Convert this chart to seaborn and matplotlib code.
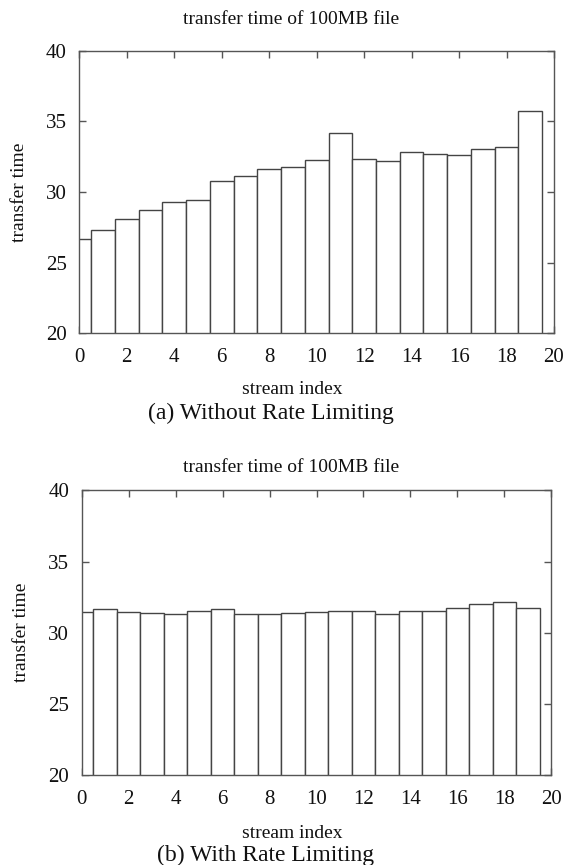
import matplotlib
matplotlib.use("Agg")
import matplotlib.pyplot as plt
import seaborn as sns
import pandas as pd

stream_index = list(range(20))
without_limit = [26.65, 27.3, 28.1, 28.7, 29.3, 29.45, 30.8, 31.1, 31.6, 31.8,
                 32.3, 34.2, 32.35, 32.2, 32.8, 32.7, 32.6, 33.05, 33.2, 35.7]
with_limit = [31.45, 31.65, 31.45, 31.42, 31.32, 31.52, 31.65, 31.34, 31.3, 31.37,
              31.45, 31.53, 31.53, 31.34, 31.53, 31.53, 31.75, 32.05, 32.15, 31.75]
x_ticks = list(range(0, 21, 2))
y_ticks = [20, 25, 30, 35, 40]
title = "transfer time of 100MB file"
captions = ["(a) Without Rate Limiting", "(b) With Rate Limiting"]

sns.set_theme(style="white")
plt.rcParams['font.family'] = ['Liberation Serif', 'DejaVu Serif']
plt.rcParams['mathtext.fontset'] = 'stix'

W, H = 567, 865
fig = plt.figure(figsize=(W / 100, H / 100), dpi=100)

def px_axes(l, t, r, b):
    return fig.add_axes([l / W, 1 - b / H, (r - l) / W, (b - t) / H])

ax1 = px_axes(79.3, 50.7, 554.0, 333.3)
ax2 = px_axes(81.7, 490.3, 551.3, 775.3)

edge = "#444444"
for ax, vals in [(ax1, without_limit), (ax2, with_limit)]:
    df = pd.DataFrame({"idx": stream_index, "t": vals})
    sns.barplot(data=df, x="idx", y="t", native_scale=True, width=1.0,
                color="white", edgecolor=edge, linewidth=1.0, saturation=1,
                errorbar=None, ax=ax)
    ax.set_xlim(0, 20)
    ax.set_ylim(20, 40)
    ax.set_xticks(x_ticks)
    ax.set_yticks(y_ticks)
    ax.tick_params(axis="both", direction="in", length=5, width=1, color="#555555",
                   top=True, right=True, bottom=True, left=True,
                   labelsize=15, labelcolor="#111111")
    ax.tick_params(axis="y", pad=9)
    ax.tick_params(axis="x", pad=10.5)
    for s in ax.spines.values():
        s.set_visible(True)
        s.set_color("#555555")
        s.set_linewidth(1.0)
    ax.set_xlabel("")
    ax.set_ylabel("transfer time", fontsize=14, color="#111111", labelpad=13)

def ftext(x, y, s, size):
    fig.text(x / W, 1 - y / H, s, ha="center", va="center", fontsize=size, color="#111111")

ftext(291, 20, title, 14)
ftext(292, 389, "stream index", 14)
ftext(271, 413, captions[0], 17)
ftext(291, 468, title, 14)
ftext(292, 833, "stream index", 14)
ftext(266, 855, captions[1], 17)

fig.savefig("out.png", dpi=100)
